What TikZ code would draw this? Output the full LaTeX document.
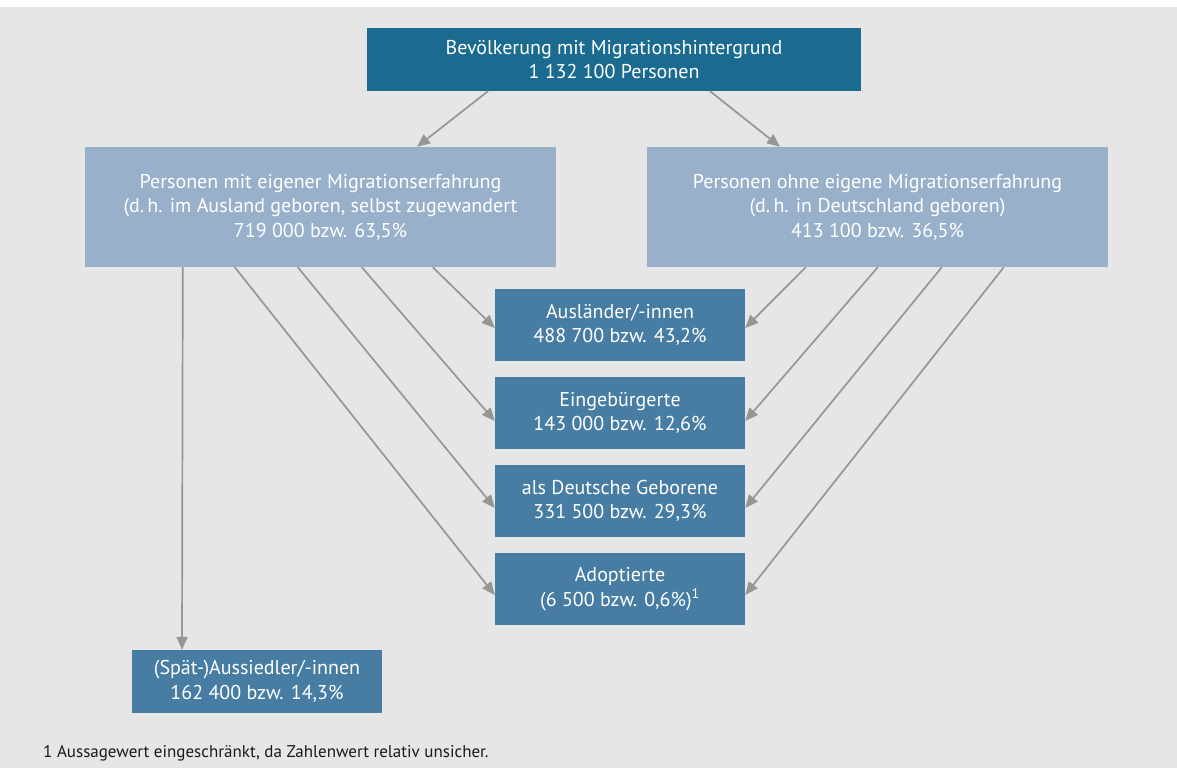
\documentclass[tikz,border=0pt]{standalone}
\usepackage{fontspec}
\setmainfont{PT Sans}
\usetikzlibrary{arrows.meta}
\definecolor{bgc}{RGB}{230,230,230}
\definecolor{topc}{RGB}{26,107,143}
\definecolor{lightc}{RGB}{152,176,201}
\definecolor{midc}{RGB}{71,125,163}
\definecolor{arrc}{RGB}{150,150,147}
\tikzset{
  box/.style={inner sep=0pt, align=center, text=white, font=\fontsize{20}{24.5}\selectfont},
  topbox/.style={box, fill=topc, minimum width=494pt, minimum height=63pt},
  lightbox/.style={box, fill=lightc, minimum height=120pt},
  midbox/.style={box, fill=midc, minimum width=250pt, minimum height=72pt},
  arr/.style={draw=arrc, line width=1.7pt, -{Triangle[length=13pt,width=11pt,fill=arrc]}}
}
\begin{document}
\begin{tikzpicture}[x=1pt,y=-1pt]
\useasboundingbox (0,0) rectangle (1177,778);
\fill[bgc] (0,7) rectangle (1177,768);
\node[topbox] (top) at (614,59.5) {Bevölkerung mit Migrationshintergrund\\1 132 100 Personen};
\node[lightbox, minimum width=471pt] (L) at (320.5,207) {Personen mit eigener Migrationserfahrung\\(d.\,h. im Ausland geboren, selbst zugewandert\\719 000 bzw. 63,5\%};
\node[lightbox, minimum width=461pt] (R) at (877.5,207) {Personen ohne eigene Migrationserfahrung\\(d.\,h. in Deutschland geboren)\\413 100 bzw. 36,5\%};
\node[midbox] (m1) at (620,325) {Ausländer/-innen\\488 700 bzw. 43,2\%};
\node[midbox] (m2) at (620,413) {Eingebürgerte\\143 000 bzw. 12,6\%};
\node[midbox] (m3) at (620,501) {als Deutsche Geborene\\331 500 bzw. 29,3\%};
\node[midbox] (m4) at (620,589) {Adoptierte\\(6 500 bzw. 0,6\%)\textsuperscript{1}};
\node[midbox, minimum height=63pt] (S) at (257,681.5) {(Spät-)Aussiedler/-innen\\162 400 bzw. 14,3\%};
\node[anchor=base west, inner sep=0pt, font=\fontsize{17}{20}\selectfont, text={rgb,255:red,26;green,26;blue,26}] (fn) at (43,757) {1 Aussagewert eingeschränkt, da Zahlenwert relativ unsicher.};
% start points
\coordinate (t1) at ([xshift=-126pt]top.south);
\coordinate (t2) at ([xshift=96pt]top.south);
\coordinate (l0) at ([xshift=98pt]L.south west);
\coordinate (l1) at ([xshift=348pt]L.south west);
\coordinate (l2) at ([xshift=277pt]L.south west);
\coordinate (l3) at ([xshift=213pt]L.south west);
\coordinate (l4) at ([xshift=150pt]L.south west);
\coordinate (r1) at ([xshift=159pt]R.south west);
\coordinate (r2) at ([xshift=231pt]R.south west);
\coordinate (r3) at ([xshift=295pt]R.south west);
\coordinate (r4) at ([xshift=357pt]R.south west);
\draw[arr] (t1) -- ([xshift=96.5pt]L.north);
\draw[arr] (t2) -- ([xshift=-97.5pt]R.north);
\draw[arr] (l0) -- ([xshift=-75pt]S.north);
\draw[arr] (l1) -- ([yshift=-3pt]m1.west);
\draw[arr] (l2) -- ([yshift=-8pt]m2.west);
\draw[arr] (l3) -- ([yshift=-7pt]m3.west);
\draw[arr] (l4) -- ([yshift=-6pt]m4.west);
\draw[arr] (r1) -- ([yshift=-3pt]m1.east);
\draw[arr] (r2) -- ([yshift=-8pt]m2.east);
\draw[arr] (r3) -- ([yshift=-7pt]m3.east);
\draw[arr] (r4) -- ([yshift=-6pt]m4.east);
\end{tikzpicture}
\end{document}
